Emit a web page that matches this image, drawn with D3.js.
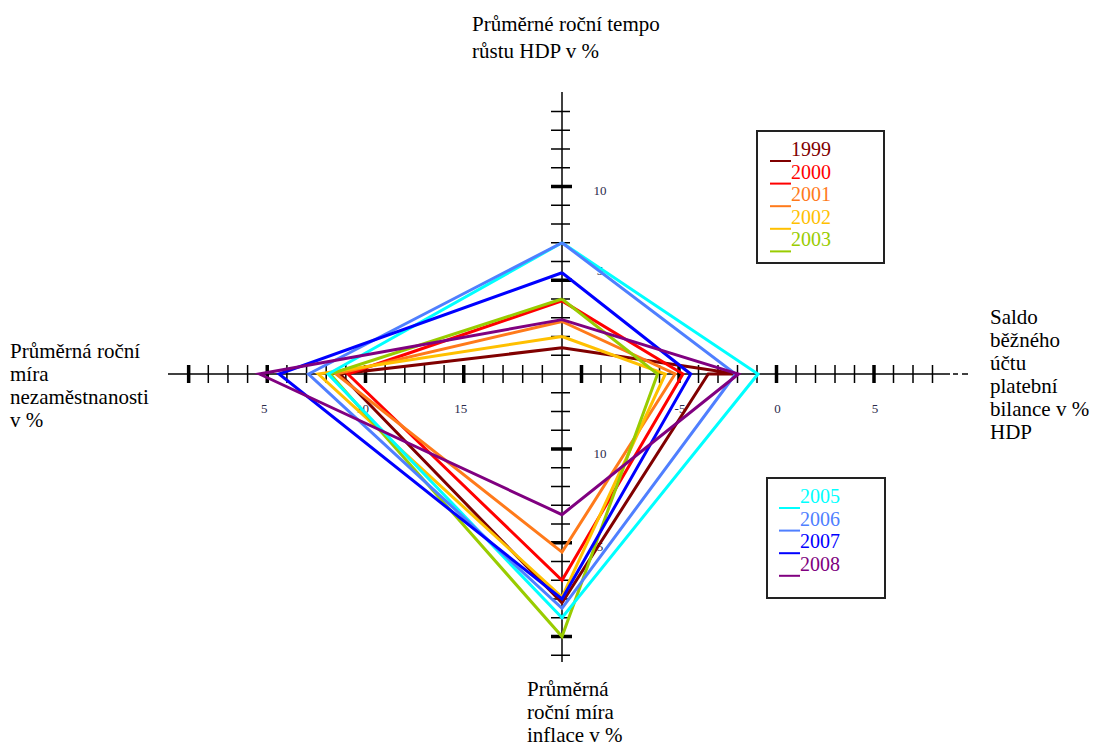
<!DOCTYPE html>
<html><head><meta charset="utf-8">
<script src="https://cdn.jsdelivr.net/npm/d3@7"></script>
<style>
body{margin:0;background:#fff}
svg{display:block}
text{font-family:"Liberation Serif","Times New Roman",serif}
</style>
</head><body>
<svg id="chart" width="1093" height="747"></svg>
<script>
// ---------------- DATA ----------------
const years = ["1999","2000","2001","2002","2003","2005","2006","2007","2008"];
const seriesColors = ["#800000","#ff0000","#ff7a1a","#ffc000","#99cc00","#00ffff","#4f7fff","#0000ff","#800080"];
const gdpGrowth      = [1.4, 3.9, 2.8, 2.0, 4.0, 7.0, 7.0, 5.4, 2.9];
const currentAccount = [-2.0, -4.8, -5.2, -5.7, -6.1, -0.95, -2.1, -4.4, -1.95];
const currentAccountReturn = [-3.5, null, null, null, null, null, null, null, null];
const inflation      = [1.8, 3.0, 4.5, 2.1, 0.0, 1.0, 1.5, 2.0, 6.5];
const unemployment   = [8.7, 9.1, 8.5, 7.6, 8.2, 8.1, 7.1, 5.6, 4.6];

const legendGroup1 = ["1999","2000","2001","2002","2003"];
const legendGroup2 = ["2005","2006","2007","2008"];

const gdpTicks = d3.range(1, 15);
const gdpTickLabels = [5, 10];
const caTicks = d3.range(-10, 9);
const caTickLabels = [-5, 0, 5];
const inflTicks = d3.range(-1, 14);
const inflTickLabels = [5, 10];
const unempTicks = d3.range(1, 20);
const unempTickLabels = [5, 10, 15];

const titleTop = ["Průměrné roční tempo", "růstu HDP v %"];
const titleRight = ["Saldo", "běžného", "účtu", "platební", "bilance v %", "HDP"];
const titleLeft = ["Průměrná roční", "míra", "nezaměstnanosti", "v %"];
const titleBottom = ["Průměrná", "roční míra", "inflace v %"];

// ---------------- LAYOUT ----------------
const svg = d3.select("#chart");
const cx = 562, cy = 374;
const gdpY  = d3.scaleLinear().domain([0, 10]).range([cy, cy - 187.5]);
const inflY = d3.scaleLinear().domain([14, 0]).range([cy, cy + 262.5]);
const caX   = d3.scaleLinear().domain([-11, 0]).range([cx, cx + 214.5]);
const unX   = d3.scaleLinear().domain([20, 0]).range([cx, cx - 393]);

const axisG = svg.append("g").attr("stroke", "#000");
// main axes
axisG.append("line").attr("x1", 168).attr("x2", 950).attr("y1", cy).attr("y2", cy).attr("stroke-width", 1.5);
axisG.append("line").attr("x1", 953).attr("x2", 958).attr("y1", cy).attr("y2", cy).attr("stroke-width", 1.5);
axisG.append("line").attr("x1", 962).attr("x2", 968).attr("y1", cy).attr("y2", cy).attr("stroke-width", 1.5);
axisG.append("line").attr("x1", cx).attr("x2", cx).attr("y1", 92).attr("y2", 662).attr("stroke-width", 1.5);

function hTicks(vals, scale, isMajor) {
  axisG.selectAll(null).data(vals).enter().append("line")
    .attr("x1", d => scale(d)).attr("x2", d => scale(d))
    .attr("y1", cy - 9).attr("y2", cy + 9)
    .attr("stroke-width", d => isMajor(d) ? 3.5 : 1.5);
}
function vTicks(vals, scale, isMajor) {
  axisG.selectAll(null).data(vals).enter().append("line")
    .attr("y1", d => scale(d)).attr("y2", d => scale(d))
    .attr("x1", cx - 11).attr("x2", d => isMajor(d) ? cx + 10 : cx + 8)
    .attr("stroke-width", d => isMajor(d) ? 3.5 : 1.5);
}
hTicks(unempTicks, unX, d => d % 5 === 0 || d === 1);
hTicks(caTicks, caX, d => d % 5 === 0);
vTicks(gdpTicks, gdpY, d => d % 5 === 0);
vTicks(inflTicks, inflY, d => d % 5 === 0);

// tick labels
const lblG = svg.append("g").attr("font-size", 13).attr("fill", "#2b2b4b").attr("text-anchor", "middle");
lblG.selectAll(null).data(gdpTickLabels).enter().append("text")
  .attr("x", cx + 38).attr("y", d => gdpY(d) + (d === 10 ? 8.5 : -5)).text(d => d);
lblG.selectAll(null).data(inflTickLabels).enter().append("text")
  .attr("x", cx + 38).attr("y", d => inflY(d) + 8.5).text(d => d);
lblG.selectAll(null).data(unempTickLabels).enter().append("text")
  .attr("x", d => unX(d) - 3).attr("y", cy + 38.5).text(d => d);
lblG.selectAll(null).data(caTickLabels).enter().append("text")
  .attr("x", d => caX(d) + 1).attr("y", cy + 38.5).text(d => d);

// series polygons
const lineGen = d3.line();
years.forEach((yr, i) => {
  const pts = [[cx, gdpY(gdpGrowth[i])], [caX(currentAccount[i]), cy]];
  if (currentAccountReturn[i] !== null) pts.push([caX(currentAccountReturn[i]), cy]);
  pts.push([cx, inflY(inflation[i])]);
  pts.push([unX(unemployment[i]), cy]);
  pts.push([cx, gdpY(gdpGrowth[i])]);
  svg.append("path").attr("d", lineGen(pts))
    .attr("fill", "none").attr("stroke", seriesColors[i])
    .attr("stroke-width", 3).attr("stroke-linejoin", "miter");
});

// legends
function legend(list, x, y, w, h, tx, lx0, base0, step) {
  const g = svg.append("g");
  g.append("rect").attr("x", x).attr("y", y).attr("width", w).attr("height", h)
    .attr("fill", "none").attr("stroke", "#222").attr("stroke-width", 2);
  list.forEach((yr, k) => {
    const c = seriesColors[years.indexOf(yr)];
    const b = base0 + k * step;
    g.append("line").attr("x1", lx0).attr("x2", tx).attr("y1", b + 5).attr("y2", b + 5)
      .attr("stroke", c).attr("stroke-width", 2);
    g.append("text").attr("x", tx).attr("y", b).attr("font-size", 20).attr("fill", c).text(yr);
  });
}
legend(legendGroup1, 757, 131, 127, 132, 791, 770, 156, 22.6);
legend(legendGroup2, 767, 478, 118, 120, 800, 779, 503, 22.6);

// axis titles
function multiText(lines, x, y0, step) {
  const t = svg.append("g").attr("font-size", 21).attr("fill", "#000");
  lines.forEach((s, k) => t.append("text").attr("x", x).attr("y", y0 + k * step).text(s));
}
multiText(titleTop, 472, 31, 27);
multiText(titleRight, 990, 324, 23);
multiText(titleLeft, 10, 358, 23);
multiText(titleBottom, 527, 696, 23);
</script>
</body></html>
